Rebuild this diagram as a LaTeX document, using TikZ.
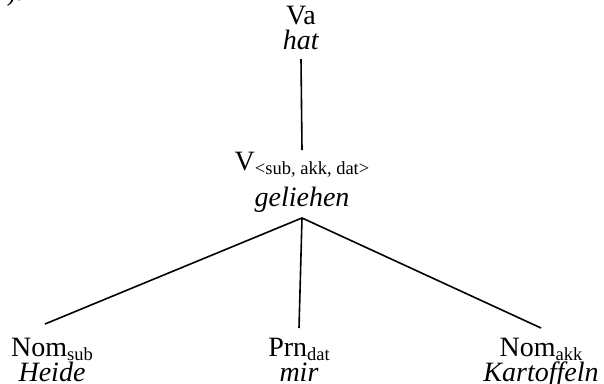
\documentclass[tikz,border=0pt]{standalone}
\usepackage{fontspec}
\setmainfont{Liberation Serif}
\newcommand\lowsub[1]{\raisebox{-4pt}{\fontsize{18.5}{18.5}\selectfont #1}}
\begin{document}
\begin{tikzpicture}[x=1pt,y=1pt,
  lbl/.style={align=center, font=\fontsize{28}{25}\selectfont, inner sep=0pt},
  branch/.style={line width=1.6pt}]
\useasboundingbox (0,0) rectangle (604,-383);
\node[lbl, anchor=base west] (frag) at (-6,0) {\textit{y}).};
\node[lbl, anchor=north] (va) at (301,-6) {Va\\\textit{hat}};
\node[lbl, anchor=north] (v) at (302,-152) {V\lowsub{<sub, akk, dat>}\\[9pt]\textit{geliehen}};
\node[lbl, anchor=north] (nsub) at (52,-338) {Nom\lowsub{sub}\\\textit{Heide}};
\node[lbl, anchor=north] (prn) at (299,-338) {Prn\lowsub{dat}\\\textit{mir}};
\node[lbl, anchor=north] (nakk) at (541,-338) {Nom\lowsub{akk}\\\textit{Kartoffeln}};
\coordinate (vatop) at ([yshift=-9pt]va.south);
\draw[branch] (vatop) -- ([yshift=2pt]v.north);
\coordinate (vbot) at ([yshift=-5pt]v.south);
\draw[branch] (vbot) -- ([xshift=-7pt,yshift=14pt]nsub.north);
\draw[branch] (vbot) -- ([yshift=10pt]prn.north);
\draw[branch] (vbot) -- ([yshift=10pt]nakk.north);
\end{tikzpicture}
\end{document}
